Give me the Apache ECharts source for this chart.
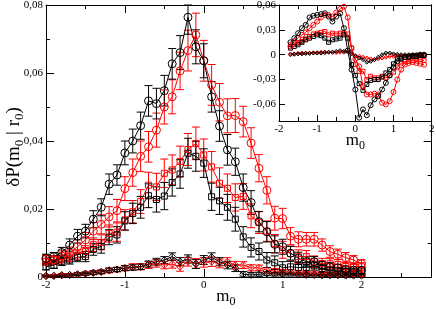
<!DOCTYPE html>
<html><head><meta charset="utf-8">
<script src="https://cdn.jsdelivr.net/npm/echarts@6/dist/echarts.min.js"></script>
<style>html,body{margin:0;padding:0;background:#fff}#c{width:436px;height:309px}</style>
</head><body><div id="c"></div>
<script>
// ---- main plot data ----
const mValues = [-2,-1.9,-1.8,-1.7,-1.6,-1.5,-1.4,-1.3,-1.2,-1.1,
  -1,-0.9,-0.8,-0.7,-0.6,-0.5,-0.4,-0.3,-0.2,-0.1,
  0,0.1,0.2,0.3,0.4,0.5,0.6,0.7,0.8,0.9,
  1,1.1,1.2,1.3,1.4,1.5,1.6,1.7,1.8,1.9,2];
const blackCircles = [0.0055,0.006,0.0072,0.0094,0.012,0.0135,0.017,0.0205,0.0273,0.030,
  0.0365,0.040,0.0445,0.0518,0.051,0.0548,0.0627,0.066,0.0764,0.0677,
  0.0636,0.053,0.0444,0.0374,0.0339,0.0263,0.0219,0.0163,0.0133,0.0096,
  0.0089,0.007,0.0055,0.0045,0.0045,0.0035,0.003,0.0027,0.0022,0.002,0.002];
const redCircles = [0.0052,0.005,0.0062,0.0071,0.0089,0.0109,0.0135,0.0155,0.0177,0.0195,
  0.026,0.0307,0.0355,0.0383,0.0432,0.050,0.053,0.0606,0.0666,0.0712,
  0.0636,0.0565,0.0514,0.0474,0.0475,0.0457,0.0394,0.032,0.0255,0.0173,
  0.0172,0.012,0.0111,0.0111,0.0111,0.0094,0.0075,0.0067,0.0057,0.005,0.0039];
const blackSquares = [0.003,0.0035,0.0045,0.005,0.0058,0.006,0.0081,0.009,0.0117,0.0124,
  0.0165,0.0187,0.0205,0.0239,0.0228,0.0238,0.0278,0.0303,0.0364,0.0355,
  0.0335,0.0236,0.0224,0.0205,0.017,0.0118,0.0087,0.0075,0.005,0.0042,
  0.0027,0.003,0.0028,0.0028,0.0033,0.0025,0.002,0.0018,0.0016,0.0015,0.0018];
const redSquares = [0.0045,0.005,0.0053,0.0058,0.0065,0.0075,0.0095,0.0102,0.0128,0.0132,
  0.0168,0.0192,0.0222,0.027,0.0265,0.0305,0.0315,0.034,0.0375,0.0393,
  0.0359,0.0324,0.0276,0.0261,0.0234,0.0237,0.018,0.016,0.0135,0.0098,
  0.008,0.0069,0.006,0.006,0.0045,0.0039,0.0039,0.0037,0.0031,0.003,0.003];
const blackDiamonds = [0.0003,0.0003,0.0005,0.0006,0.0008,0.001,0.0012,0.0015,0.002,0.0022,
  0.0026,0.0028,0.003,0.0038,0.0045,0.005,0.006,0.0045,0.0053,0.0038,
  0.005,0.0058,0.0045,0.0035,0.0026,0.0008,0.0006,0.0008,0.001,0.0008,
  0.0008,0.0007,0.0007,0.0006,0.0006,0.0005,0.0005,0.0005,0.0004,0.0004,0.0004];
const redDiamonds = [0.0003,0.0004,0.0006,0.0006,0.0008,0.001,0.0013,0.0015,0.0019,0.0022,
  0.0026,0.003,0.003,0.0035,0.004,0.0035,0.0038,0.003,0.0045,0.004,
  0.0043,0.0045,0.004,0.0045,0.0035,0.0035,0.0027,0.0027,0.002,0.0018,
  0.0015,0.0015,0.0012,0.0012,0.001,0.001,0.0009,0.0009,0.0008,0.0008,0.0008];
// error bar half-heights
const errBlackCircles = [0.0012,0.0012,0.0015,0.0018,0.002,0.002,0.0025,0.0025,0.003,0.003,
  0.0035,0.0035,0.004,0.0045,0.0045,0.0045,0.0045,0.005,0.005,0.005,
  0.005,0.0045,0.0045,0.0045,0.004,0.004,0.0035,0.003,0.003,0.0025,
  0.0022,0.002,0.0018,0.0015,0.0015,0.0012,0.0012,0.001,0.001,0.001,0.001];
const errRedCircles = [0.0012,0.0013,0.0015,0.0017,0.002,0.0022,0.0025,0.0028,0.003,0.0033,
  0.0035,0.004,0.0045,0.0045,0.005,0.005,0.005,0.0055,0.006,0.0064,
  0.006,0.006,0.0055,0.005,0.005,0.0045,0.0045,0.004,0.004,0.0035,
  0.003,0.0025,0.0022,0.002,0.002,0.0018,0.0017,0.0015,0.0015,0.0013,0.0012];
const errBlackSquares = [0.0009,0.001,0.0011,0.0012,0.0013,0.0015,0.0017,0.002,0.0022,0.0024,
  0.0027,0.003,0.0032,0.0035,0.0037,0.004,0.004,0.0042,0.0044,0.0044,
  0.0042,0.004,0.004,0.0038,0.0035,0.003,0.0028,0.0025,0.0022,0.002,
  0.0018,0.0016,0.0015,0.0014,0.0013,0.0012,0.0011,0.001,0.001,0.0009,0.0009];
const errRedSquares = [0.001,0.0011,0.0012,0.0013,0.0015,0.0017,0.002,0.0022,0.0025,0.0027,
  0.003,0.0033,0.0035,0.0038,0.004,0.0042,0.0044,0.0045,0.0047,0.0048,
  0.0047,0.0045,0.0045,0.0042,0.004,0.0038,0.0035,0.0032,0.003,0.0027,
  0.0025,0.0022,0.002,0.0018,0.0017,0.0016,0.0015,0.0014,0.0013,0.0012,0.0012];
const errBlackDiamonds = [0.0002,0.0002,0.0003,0.0003,0.0004,0.0004,0.0005,0.0005,0.0006,0.0006,
  0.0007,0.0008,0.0008,0.0009,0.001,0.001,0.0011,0.0012,0.0012,0.0013,
  0.0013,0.0013,0.0012,0.0011,0.001,0.0008,0.0007,0.0006,0.0006,0.0005,
  0.0005,0.0004,0.0004,0.0004,0.0003,0.0003,0.0003,0.0003,0.0003,0.0003,0.0003];
const errRedDiamonds = [0.0003,0.0003,0.0004,0.0004,0.0005,0.0005,0.0006,0.0006,0.0007,0.0007,
  0.0008,0.0009,0.0009,0.001,0.0011,0.0011,0.0012,0.0013,0.0013,0.0014,
  0.0014,0.0014,0.0013,0.0012,0.0011,0.001,0.0009,0.0008,0.0008,0.0007,
  0.0007,0.0006,0.0006,0.0005,0.0005,0.0005,0.0004,0.0004,0.0004,0.0004,0.0004];

// ---- inset data ----
const insetM = [-1.7,-1.6,-1.5,-1.4,-1.3,-1.2,-1.1,-1,-0.9,-0.8,
  -0.7,-0.6,-0.5,-0.4,-0.3,-0.2,-0.1,0,0.1,0.2,
  0.3,0.4,0.5,0.6,0.7,0.8,0.9,1,1.1,1.2,
  1.3,1.4,1.5,1.6,1.7,1.8];
const inBlackCircles = [0.015,0.02,0.026,0.032,0.036,0.045,0.047,0.048,0.049,0.05,
  0.046,0.04,0.046,0.05,0.032,0.005,-0.018,-0.042,-0.076,-0.066,
  -0.073,-0.061,-0.054,-0.05,-0.042,-0.034,-0.025,-0.015,-0.008,-0.005,
  -0.003,-0.002,-0.001,-0.001,0,0];
const inRedCircles = [0.01,0.016,0.02,0.024,0.027,0.032,0.036,0.04,0.045,0.048,
  0.048,0.046,0.051,0.055,0.058,0.045,0.008,-0.005,-0.014,-0.038,
  -0.048,-0.048,-0.047,-0.048,-0.058,-0.06,-0.056,-0.045,-0.03,-0.018,
  -0.012,-0.01,-0.009,-0.01,-0.011,-0.012];
const inBlackSquares = [0.008,0.01,0.012,0.015,0.018,0.02,0.022,0.024,0.023,0.02,
  0.015,0.018,0.019,0.02,0.024,0.02,-0.012,-0.025,-0.035,-0.043,
  -0.036,-0.031,-0.03,-0.03,-0.027,-0.022,-0.018,-0.011,-0.005,-0.004,
  -0.003,-0.003,-0.002,-0.002,-0.001,-0.001];
const inRedSquares = [0.012,0.013,0.014,0.016,0.019,0.022,0.025,0.026,0.027,0.028,
  0.024,0.026,0.025,0.026,0.026,0.025,0.008,-0.012,-0.02,-0.02,
  -0.03,-0.026,-0.028,-0.028,-0.026,-0.028,-0.025,-0.021,-0.015,-0.01,
  -0.008,-0.008,-0.007,-0.006,-0.006,-0.007];
const inBlackDiamonds = [0,0.0005,0.001,0.001,0.0015,0.0015,0.002,0.002,0.002,0.0025,
  0.003,0.003,0.004,0.005,0.004,0.004,0.001,-0.002,-0.004,-0.006,
  -0.009,-0.008,-0.006,-0.003,0,0.002,0.002,0.001,0.0005,0,
  0,0,0,0,0,0];
const inRedDiamonds = [0.001,0.001,0.0015,0.002,0.002,0.002,0.0025,0.0025,0.003,0.003,
  0.003,0.003,0.0025,0.003,0.003,0.004,0.002,-0.001,-0.002,-0.003,
  -0.004,-0.005,-0.006,-0.005,-0.004,-0.003,-0.002,-0.002,-0.001,-0.001,
  -0.001,-0.001,-0.001,-0.001,-0.002,-0.002];
const insetYTicks = [-0.06,-0.03,0,0.03,0.06];

// ---- build chart ----
const FONT = 'Liberation Serif';
const chart = echarts.init(document.getElementById('c'), null, {renderer:'canvas', width:436, height:309});
function fmt(v){ if (Math.abs(v) < 1e-9) return '0'; return (v<0?'-':'') + Math.abs(v).toFixed(2).replace('.', ','); }
function intFmt(v){ return String(Math.round(v)); }
function pairs(xs, ys){ return xs.map((x,i)=>[x, ys[i]]); }
function triples(xs, ys, es){ return xs.map((x,i)=>[x, ys[i], es[i]]); }

const titleRich = {
  t:{fontFamily:FONT, fontSize:17, color:'#000', lineHeight:17},
  s:{fontFamily:FONT, fontSize:12, color:'#000', lineHeight:12, padding:[10,0,0,0]}
};
const yTitleRich = {
  t:{fontFamily:FONT, fontSize:19, color:'#000', lineHeight:19},
  s:{fontFamily:FONT, fontSize:13, color:'#000', lineHeight:13, padding:[11,0,0,0]}
};

function axisDef(grid, pos, opts){
  return Object.assign({
    gridIndex:grid, type:'value', position:pos,
    axisLine:{show:true, onZero:false, lineStyle:{color:'#000', width:1}},
    axisTick:{show:true, inside:true, length:8, lineStyle:{color:'#000', width:1}},
    minorTick:{show:true, splitNumber:2, length:4, lineStyle:{color:'#000', width:1}},
    splitLine:{show:false}, minorSplitLine:{show:false},
    axisLabel:{show:false},
    nameMoveOverlap:false
  }, opts);
}
const labelStyle = {show:true, margin:3, color:'#000', fontFamily:FONT, fontSize:11};

const series = [];
function errRender(color){
  return function(params, api){
    const x = api.value(0), y = api.value(1), e = api.value(2);
    const cs = params.coordSys;
    const top = api.coord([x, y+e]), bot = api.coord([x, y-e]);
    const yb = Math.min(bot[1], cs.y + cs.height), yt = Math.max(top[1], cs.y);
    const hw = 4;
    const style = {stroke:color, lineWidth:1};
    return {type:'group', children:[
      {type:'line', shape:{x1:top[0], y1:yt, x2:top[0], y2:yb}, style:style},
      {type:'line', shape:{x1:top[0]-hw, y1:yt, x2:top[0]+hw, y2:yt}, style:style},
      {type:'line', shape:{x1:bot[0]-hw, y1:yb, x2:bot[0]+hw, y2:yb}, style:style}
    ]};
  };
}
function addMain(ys, errs, color, symbol, size){
  series.push({type:'custom', xAxisIndex:0, yAxisIndex:0, silent:true, z:2,
    renderItem:errRender(color), data:triples(mValues, ys, errs)});
  series.push({type:'line', xAxisIndex:0, yAxisIndex:0, silent:true, z:3,
    data:pairs(mValues, ys), symbol:symbol, symbolSize:size,
    lineStyle:{color:color, width:1},
    itemStyle:{color:'rgba(0,0,0,0)', borderColor:color, borderWidth:1},
    emphasis:{disabled:true}});
}
function addInset(ys, color, symbol, size){
  series.push({type:'line', xAxisIndex:2, yAxisIndex:2, silent:true, z:7,
    data:pairs(insetM, ys), symbol:symbol, symbolSize:size,
    lineStyle:{color:color, width:1},
    itemStyle:{color:'rgba(0,0,0,0)', borderColor:color, borderWidth:1},
    emphasis:{disabled:true}});
}
addMain(redDiamonds, errRedDiamonds, '#ff0000', 'diamond', 7);
addMain(blackDiamonds, errBlackDiamonds, '#000000', 'diamond', 7);
addMain(redSquares, errRedSquares, '#ff0000', 'rect', 6);
addMain(blackSquares, errBlackSquares, '#000000', 'rect', 6);
addMain(redCircles, errRedCircles, '#ff0000', 'circle', 8);
addMain(blackCircles, errBlackCircles, '#000000', 'circle', 8);
addInset(inRedDiamonds, '#ff0000', 'diamond', 4);
addInset(inBlackDiamonds, '#000000', 'diamond', 4);
addInset(inRedSquares, '#ff0000', 'rect', 4);
addInset(inBlackSquares, '#000000', 'rect', 4);
addInset(inRedCircles, '#ff0000', 'circle', 5);
addInset(inBlackCircles, '#000000', 'circle', 5);

const option = {
  animation:false,
  backgroundColor:'#fff',
  grid:[
    {left:46, right:4.3, top:5, bottom:32, outerBoundsMode:'none', containLabel:false},
    {left:279, right:4.3, top:5, bottom:188, outerBoundsMode:'none', containLabel:false,
     show:true, backgroundColor:'#fff', borderWidth:0, z:5}
  ],
  xAxis:[
    axisDef(0, 'bottom', {min:-2, max:2.89, interval:1,
      axisLabel:Object.assign({}, labelStyle, {showMaxLabel:false, formatter:intFmt}),
      name:'{t|m}{s|0}', nameLocation:'middle', nameGap:11,
      nameTextStyle:{rich:titleRich, padding:[0,26,0,0]}}),
    axisDef(0, 'top', {min:-2, max:2.89, interval:1}),
    axisDef(1, 'bottom', {min:-2, max:2, interval:1, z:6,
      axisTick:{show:true, inside:true, length:6, lineStyle:{color:'#000', width:1}},
      minorTick:{show:true, splitNumber:2, length:4, lineStyle:{color:'#000', width:1}},
      axisLabel:Object.assign({}, labelStyle, {formatter:intFmt}),
      name:'{t|m}{s|0}', nameLocation:'middle', nameGap:11,
      nameTextStyle:{rich:titleRich}}),
    axisDef(1, 'top', {min:-2, max:2, interval:1, z:6,
      axisTick:{show:true, inside:true, length:6, lineStyle:{color:'#000', width:1}},
      minorTick:{show:true, splitNumber:2, length:4, lineStyle:{color:'#000', width:1}}})
  ],
  yAxis:[
    axisDef(0, 'left', {min:0, max:0.08, interval:0.02,
      axisLabel:Object.assign({}, labelStyle, {formatter:fmt}),
      name:'{t|δP(m}{s|0}{t| | r}{s|0}{t|)}', nameLocation:'middle', nameGap:22, nameRotate:90,
      nameTextStyle:{rich:yTitleRich, padding:[0,12,0,0]}}),
    axisDef(0, 'right', {min:0, max:0.08, interval:0.02}),
    axisDef(1, 'left', {min:-0.08, max:0.06, z:6,
      axisTick:{show:true, inside:true, length:6, customValues:insetYTicks, lineStyle:{color:'#000', width:1}},
      minorTick:{show:false},
      axisLabel:Object.assign({}, labelStyle, {formatter:fmt, customValues:insetYTicks})}),
    axisDef(1, 'right', {min:-0.08, max:0.06, z:6,
      axisTick:{show:true, inside:true, length:6, customValues:insetYTicks, lineStyle:{color:'#000', width:1}},
      minorTick:{show:false}})
  ],
  series:series
};
chart.setOption(option);
</script></body></html>
